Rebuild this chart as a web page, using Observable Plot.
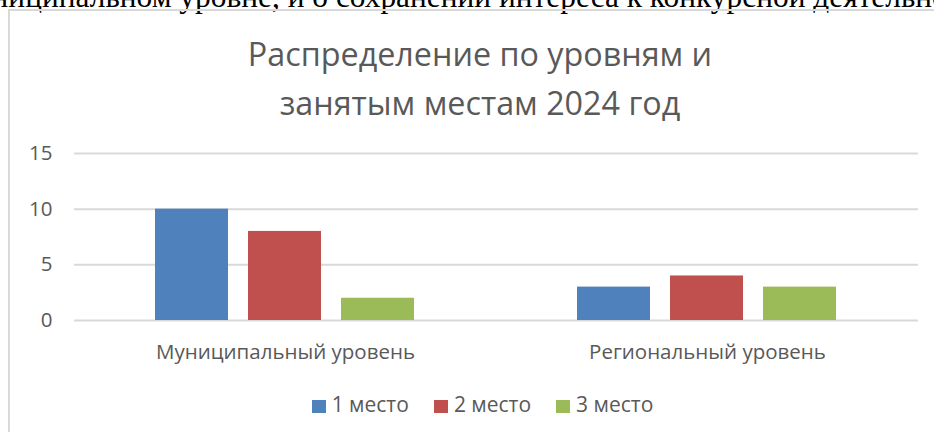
<!DOCTYPE html>
<html>
<head>
<meta charset="utf-8">
<script src="https://cdn.jsdelivr.net/npm/d3@7"></script>
<script src="https://cdn.jsdelivr.net/npm/@observablehq/plot@0.6"></script>
<style>
  html, body { margin: 0; padding: 0; background: #fff; }
  body { width: 934px; height: 432px; position: relative; overflow: hidden; }
  #pretext { position: absolute; left: -44px; top: -19px; font-family: "Liberation Serif", serif; font-size: 31.4px; line-height: 31px; white-space: nowrap; color: #000; }
  #frame { position: absolute; left: 8px; top: 9px; width: 960px; height: 460px; border-left: 2px solid #d9d9d9; border-top: 2px solid #d9d9d9; box-sizing: border-box; }
  #title { position: absolute; left: 0; width: 960px; top: 29px; text-align: center; font-family: "Open Sans", sans-serif; font-size: 32.3px; line-height: 49px; color: #595959; }
  #chart { position: absolute; left: 0; top: 130px; }
  #legend { position: absolute; left: 0; width: 965px; top: 390px; text-align: center; font-family: "Open Sans", sans-serif; font-size: 21px; color: #595959; white-space: nowrap; }
  .sw { display: inline-block; margin: 0 12.5px; }
  .sq { display: inline-block; width: 14px; height: 13px; margin-right: 6px; vertical-align: -1px; }
</style>
</head>
<body>
<div id="pretext">муниципальном уровне, и о сохранении интереса к конкурсной деятельности</div>
<div id="frame"></div>
<div id="title">Распределение по уровням и<br>занятым местам 2024 год</div>
<div id="chart"></div>
<div id="legend"></div>
<script>
const levels = ["Муниципальный уровень", "Региональный уровень"];
const places = ["1 место", "2 место", "3 место"];
const place1 = [10, 3];
const place2 = [8, 4];
const place3 = [2, 3];
const yTicks = [0, 5, 10, 15];
const colors = ["#4f81bd", "#c0504d", "#9bbb59"];

const series = [place1, place2, place3];
const data = [];
levels.forEach((lv, i) => places.forEach((p, j) => data.push({level: lv, place: p, value: series[j][i]})));

const chart = Plot.plot({
  width: 934,
  height: 250,
  marginLeft: 73,
  marginRight: 16,
  marginTop: 23,
  marginBottom: 60,
  style: {fontFamily: "Open Sans, sans-serif", fontSize: "20.5px", color: "#595959", background: "transparent"},
  fx: {domain: levels, padding: 0, axis: "bottom", label: null, tickSize: 0, tickPadding: 24},
  x: {domain: places, paddingInner: 0.2128, paddingOuter: 0.854, axis: null},
  y: {domain: [0, 15], ticks: yTicks, tickSize: 0, tickPadding: 22, label: null},
  color: {domain: places, range: colors},
  marks: [
    Plot.gridY(yTicks, {stroke: "#d9d9d9", strokeOpacity: 1, strokeWidth: 2}),
    Plot.barY(data, {fx: "level", x: "place", y: "value", fill: "place"})
  ]
});
document.getElementById("chart").appendChild(chart);

const legend = d3.select("#legend");
places.forEach((p, i) => {
  const s = legend.append("span").attr("class", "sw");
  s.append("span").attr("class", "sq").style("background", colors[i]);
  s.append("span").text(p);
});
</script>
</body>
</html>
